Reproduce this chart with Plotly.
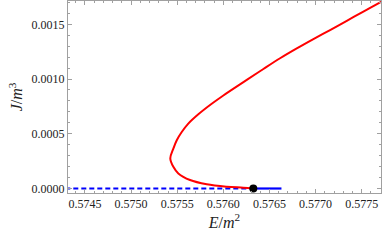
import plotly.graph_objects as go

# Red branch: E/m^2 and J/m^3
red_E = [0.576325, 0.576217, 0.576037, 0.575820, 0.575639, 0.575512, 0.575458,
         0.575425, 0.575458, 0.575495, 0.575549, 0.575620,
         0.575729, 0.575874, 0.576000, 0.576254, 0.576434, 0.576615,
         0.576796, 0.576976, 0.577157, 0.577338, 0.577518, 0.577700, 0.577808]
red_J = [0.0, 0.0000073, 0.0000164, 0.0000382, 0.0000773, 0.000138, 0.000198,
         0.000275, 0.000365, 0.000441, 0.000516, 0.000593,
         0.000678, 0.000774, 0.000850, 0.000992, 0.001092, 0.001190,
         0.001280, 0.001365, 0.001448, 0.001532, 0.001616, 0.001700, 0.001750]

# Blue branches (J = 0)
blue_dash_E = [0.5742, 0.57633]
blue_dash_J = [0.0, 0.0]
blue_solid_E = [0.57633, 0.57663]
blue_solid_J = [0.0, 0.0]

# Critical point
dot_E = [0.576325]
dot_J = [0.0]

x_range = [0.574316, 0.577709]
y_range = [-0.000041, 0.001713]

fig = go.Figure()
fig.add_trace(go.Scatter(x=blue_dash_E, y=blue_dash_J, mode="lines",
                         line=dict(color="#0000ff", width=2.2, dash="5px,3px"),
                         showlegend=False))
fig.add_trace(go.Scatter(x=blue_solid_E, y=blue_solid_J, mode="lines",
                         line=dict(color="#0000ff", width=2.2),
                         showlegend=False))
fig.add_trace(go.Scatter(x=red_E, y=red_J, mode="lines",
                         line=dict(color="#ff0000", width=2, shape="spline", smoothing=1.0),
                         showlegend=False))
fig.add_trace(go.Scatter(x=dot_E, y=dot_J, mode="markers",
                         marker=dict(color="black", size=8),
                         showlegend=False, cliponaxis=False))

axis_common = dict(
    showgrid=False, zeroline=False, showline=True, linecolor="#a0a0a0", linewidth=1,
    mirror="ticks", ticks="inside", ticklen=4, tickcolor="#a0a0a0", tickwidth=1,
    tickfont=dict(family="Liberation Serif", size=12, color="#222222"),
    automargin=False,
)

fig.update_layout(
    width=382, height=241,
    margin=dict(l=68, r=1, t=1, b=48),
    paper_bgcolor="white", plot_bgcolor="white",
    xaxis=dict(range=x_range, tickmode="array",
               tickvals=[0.5745, 0.5750, 0.5755, 0.5760, 0.5765, 0.5770, 0.5775],
               ticktext=["0.5745", "0.5750", "0.5755", "0.5760", "0.5765", "0.5770", "0.5775"],
               minor=dict(dtick=0.0001, tick0=0.5745, ticks="inside", ticklen=2,
                          tickcolor="#a0a0a0", showgrid=False),
               title=dict(text="<i>E</i>/<i>m</i><sup>2</sup>",
                          font=dict(family="Liberation Serif", size=16, color="#222222"),
                          standoff=6),
               **axis_common),
    yaxis=dict(range=y_range, tickmode="array",
               tickvals=[0.0, 0.0005, 0.0010, 0.0015],
               ticktext=["0.0000", "0.0005", "0.0010", "0.0015"],
               minor=dict(dtick=0.0001, tick0=0.0, ticks="inside", ticklen=2,
                          tickcolor="#a0a0a0", showgrid=False),
               title=dict(text="<i>J</i>/<i>m</i><sup>3</sup>",
                          font=dict(family="Liberation Serif", size=16, color="#222222"),
                          standoff=4),
               **axis_common),
)

fig.write_html("out.html", config={"displayModeBar": False},
               post_script="document.body.style.margin='0';document.body.style.overflow='hidden';")
